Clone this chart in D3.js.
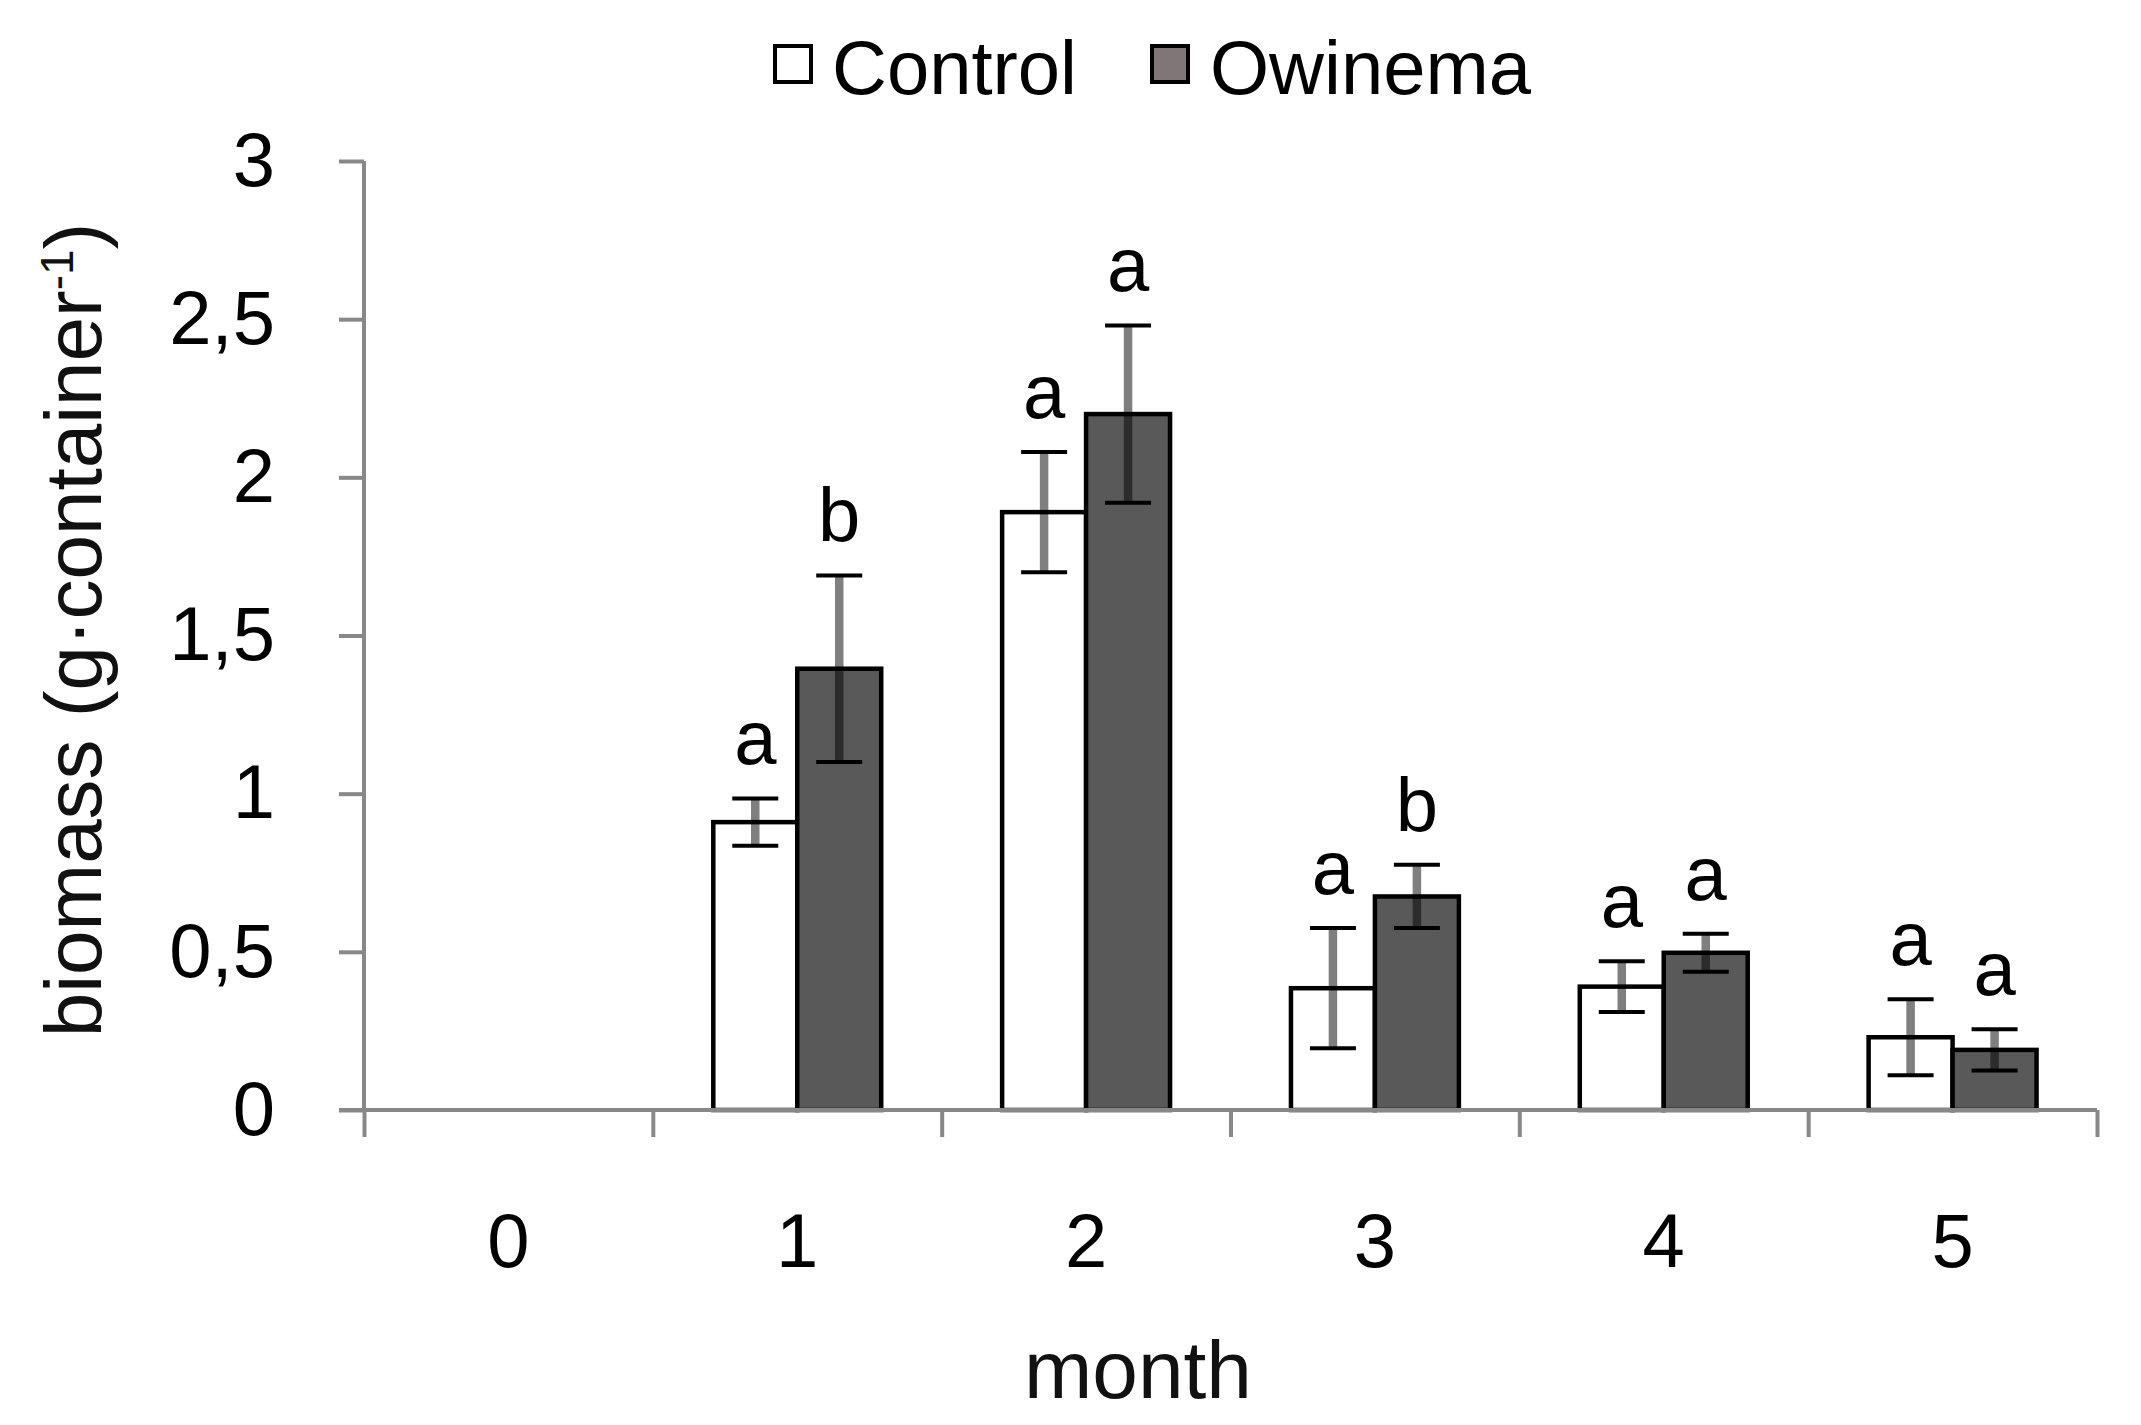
<!DOCTYPE html>
<html>
  <head>
    <meta charset="utf-8">
    <title>Biomass by month</title>
    <script src="https://cdnjs.cloudflare.com/ajax/libs/d3/7.8.5/d3.min.js"></script>
    <style>
      body { margin: 0; background: #fff; }
      text { font-family: "Liberation Sans", Arial, sans-serif; }
    </style>
  </head>
  <body>
    <script>
      // values (month 0 has no bars)
      var months = ["0", "1", "2", "3", "4", "5"];
      var series = ["Control", "Owinema"];
      var control    = [null, 0.91, 1.89, 0.385, 0.39, 0.23];
      var controlErr = [null, 0.075, 0.19, 0.19, 0.08, 0.12];
      var owinema    = [null, 1.395, 2.2, 0.675, 0.497, 0.19];
      var owinemaErr = [null, 0.295, 0.28, 0.10, 0.06, 0.065];
      var controlLetters = ["", "a", "a", "a", "a", "a"];
      var owinemaLetters = ["", "b", "a", "b", "a", "a"];
      var yTicks = [0, 0.5, 1, 1.5, 2, 2.5, 3];

      var W = 2141, H = 1425;
      var plotLeft = 364, plotRight = 2097, plotTop = 161, plotBottom = 1110;

      var fills = { Control: "#ffffff", Owinema: "#595959" };
      var legendFills = { Control: "#ffffff", Owinema: "#7f7777" };

      var svg = d3.select("body").append("svg")
        .attr("width", W)
        .attr("height", H);

      var x = d3.scaleBand().domain(months).range([plotLeft, plotRight]);
      var xInner = d3.scaleBand().domain(series)
        .range([0, x.bandwidth()])
        .paddingOuter(0.72);
      var y = d3.scaleLinear().domain([0, 3]).range([plotBottom, plotTop]);

      // build rows
      var rows = [];
      months.forEach(function (m, i) {
        if (control[i] != null)
          rows.push({ month: m, s: "Control", v: control[i], e: controlErr[i], l: controlLetters[i] });
        if (owinema[i] != null)
          rows.push({ month: m, s: "Owinema", v: owinema[i], e: owinemaErr[i], l: owinemaLetters[i] });
      });

      // y axis
      var yAxis = svg.append("g")
        .attr("transform", "translate(" + plotLeft + ",0)")
        .call(d3.axisLeft(y)
          .tickValues(yTicks)
          .tickSize(25)
          .tickPadding(64)
          .tickFormat(function (d) { return String(d).replace(".", ","); }));
      yAxis.select(".domain").attr("stroke", "#888").attr("stroke-width", 4)
        .attr("d", "M0," + plotTop + "V" + plotBottom);
      yAxis.selectAll(".tick line").attr("stroke", "#888").attr("stroke-width", 4);
      yAxis.selectAll(".tick text")
        .attr("font-size", 76).attr("fill", "#000")
        .attr("font-family", "Liberation Sans, Arial, sans-serif");

      // bars
      svg.selectAll("rect.bar").data(rows).enter().append("rect")
        .attr("class", "bar")
        .attr("x", function (d) { return x(d.month) + xInner(d.s); })
        .attr("y", function (d) { return y(d.v); })
        .attr("width", xInner.bandwidth())
        .attr("height", function (d) { return y(0) - y(d.v); })
        .attr("fill", function (d) { return fills[d.s]; })
        .attr("stroke", "#000")
        .attr("stroke-width", 4.5);

      // x axis (ticks at the category edges)
      var xEdge = d3.scaleLinear().domain([0, months.length]).range([plotLeft, plotRight]);
      var xAxis = svg.append("g")
        .attr("transform", "translate(0," + plotBottom + ")")
        .call(d3.axisBottom(xEdge)
          .tickValues(d3.range(months.length + 1))
          .tickSize(27)
          .tickFormat(""));
      xAxis.select(".domain").attr("stroke", "#888").attr("stroke-width", 4)
        .attr("d", "M" + (plotLeft - 25) + ",0H" + plotRight);
      xAxis.selectAll(".tick line").attr("stroke", "#888").attr("stroke-width", 4);

      svg.selectAll("text.xlab").data(months).enter().append("text")
        .attr("class", "xlab")
        .attr("x", function (d) { return x(d) + x.bandwidth() / 2; })
        .attr("y", 1267)
        .attr("text-anchor", "middle")
        .attr("font-size", 76)
        .text(function (d) { return d; });

      // error bars
      var cx = function (d) { return x(d.month) + xInner(d.s) + xInner.bandwidth() / 2; };
      var eb = svg.selectAll("g.err").data(rows).enter().append("g").attr("class", "err");
      eb.append("line")
        .attr("x1", cx).attr("x2", cx)
        .attr("y1", function (d) { return y(d.v + d.e); })
        .attr("y2", function (d) { return y(d.v - d.e); })
        .attr("stroke", "#000").attr("stroke-opacity", 0.5)
        .attr("stroke-width", 8.5);
      [1, -1].forEach(function (sgn) {
        eb.append("line")
          .attr("x1", function (d) { return cx(d) - 23; })
          .attr("x2", function (d) { return cx(d) + 23; })
          .attr("y1", function (d) { return y(d.v + sgn * d.e); })
          .attr("y2", function (d) { return y(d.v + sgn * d.e); })
          .attr("stroke", "#000")
          .attr("stroke-width", 4);
      });

      // significance letters
      svg.selectAll("text.letter").data(rows).enter().append("text")
        .attr("class", "letter")
        .attr("x", cx)
        .attr("y", function (d) { return y(d.v + d.e) - 34; })
        .attr("text-anchor", "middle")
        .attr("font-size", 76)
        .text(function (d) { return d.l; });

      // legend
      var legendX = { Control: 773, Owinema: 1150 };
      var lg = svg.selectAll("g.legend").data(series).enter().append("g")
        .attr("class", "legend")
        .attr("transform", function (d) { return "translate(" + legendX[d] + ",44)"; });
      lg.append("rect")
        .attr("x", 2).attr("y", 2)
        .attr("width", 36).attr("height", 36)
        .attr("fill", function (d) { return legendFills[d]; })
        .attr("stroke", "#000").attr("stroke-width", 4);
      lg.append("text")
        .attr("x", function (d) { return d === "Control" ? 59 : 60; })
        .attr("y", 50)
        .attr("font-size", 76)
        .text(function (d) { return d; });

      // axis titles
      var yTitle = svg.append("text")
        .attr("transform", "translate(101,630) rotate(-90)")
        .attr("text-anchor", "middle")
        .attr("font-size", 80)
        .attr("fill", "#111");
      yTitle.append("tspan").text("biomass (g\u00b7container");
      yTitle.append("tspan").attr("font-size", 46).attr("dy", -28).text("-1");
      yTitle.append("tspan").attr("dy", 28).text(")");

      svg.append("text")
        .attr("x", 1138)
        .attr("y", 1398)
        .attr("text-anchor", "middle")
        .attr("font-size", 82)
        .attr("fill", "#111")
        .text("month");
    </script>
  </body>
</html>
